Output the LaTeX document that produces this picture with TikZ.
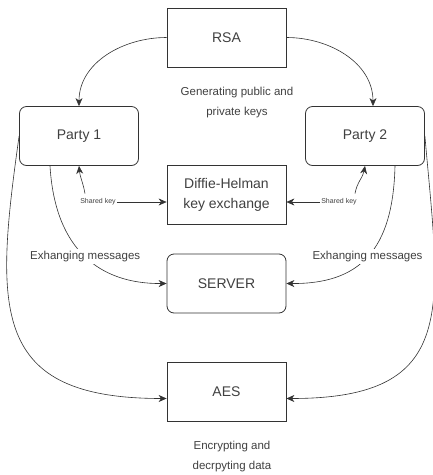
\documentclass[tikz,border=0pt]{standalone}
\usepackage{fontspec}
\setmainfont{Liberation Sans}
\usetikzlibrary{positioning, arrows.meta}
\definecolor{EdgeGrey}{HTML}{333333}
\definecolor{TextGrey}{HTML}{404040}

\begin{document}
\begin{tikzpicture}[x=1pt, y=-1pt,
    box/.style={draw=EdgeGrey, line width=0.8pt, minimum width=119pt, minimum height=59pt, align=center, text=TextGrey, font=\fontsize{14}{20}\selectfont},
    rbox/.style={box, rounded corners=7pt},
    note/.style={align=center, text=TextGrey, font=\fontsize{11.5}{20}\selectfont},
    msg/.style={fill=white, inner sep=2pt, text=TextGrey, font=\fontsize{11.5}{14}\selectfont},
    skey/.style={fill=white, inner xsep=1pt, inner ysep=5pt, text=TextGrey, font=\fontsize{7}{8}\selectfont},
    arr/.style={draw=EdgeGrey, line width=0.6pt, -{Stealth[length=8pt, width=7pt, inset=2.5pt]}}]
    \useasboundingbox (0,0) rectangle (433,475);

    % Boxes
    \node[box] (rsa) at (226.5,37.5) {RSA};
    \node[rbox] (p1) at (79,136) {Party 1};
    \node[rbox] (p2) at (365,136) {Party 2};
    \node[box] (dh) at (226.5,195) {Diffie-Helman\\key exchange};
    \node[rbox] (srv) at (226.5,283.5) {SERVER};
    \node[box] (aes) at (226.5,391.5) {AES};

    % Notes
    \node[note] (gen) at (237,103) {Generating public and\\private keys};
    \node[note] (enc) at (232,457) {Encrypting and\\decrpyting data};

    % RSA to parties
    \draw[arr] (rsa.west) to[out=180, in=90] (p1.north);
    \draw[arr] (rsa.east) to[out=0, in=90] ([xshift=8pt]p2.north);

    % Shared keys
    \node[skey] (sk1) at (98,202) {Shared key};
    \node[skey] (sk2) at (339,202) {Shared key};
    \draw[arr] ([xshift=-13pt]sk1.north) to[out=100, in=-85] (p1.south);
    \draw[arr] (sk1.east) -- (sk1.east -| dh.west);
    \draw[arr] ([xshift=16pt]sk2.north) to[out=80, in=-100] (p2.south);
    \draw[arr] (sk2.west) -- (sk2.west -| dh.east);

    % Messages through the server
    \draw[arr] ([xshift=-29pt]p1.south) .. controls (55,250) and (100,284) .. (srv.west)
        node[msg, pos=0.5] {Exhanging messages};
    \draw[arr] ([xshift=30pt]p2.south) .. controls (393,250) and (360,284) .. (srv.east)
        node[msg, pos=0.5] {Exhanging messages};

    % Parties to AES
    \draw[arr] (p1.west) to[out=-98, in=180, looseness=1.5] ([yshift=-7pt]aes.west);
    \draw[arr] (p2.east) to[out=-85, in=0, looseness=1.5] ([yshift=-7pt]aes.east);
\end{tikzpicture}
\end{document}
